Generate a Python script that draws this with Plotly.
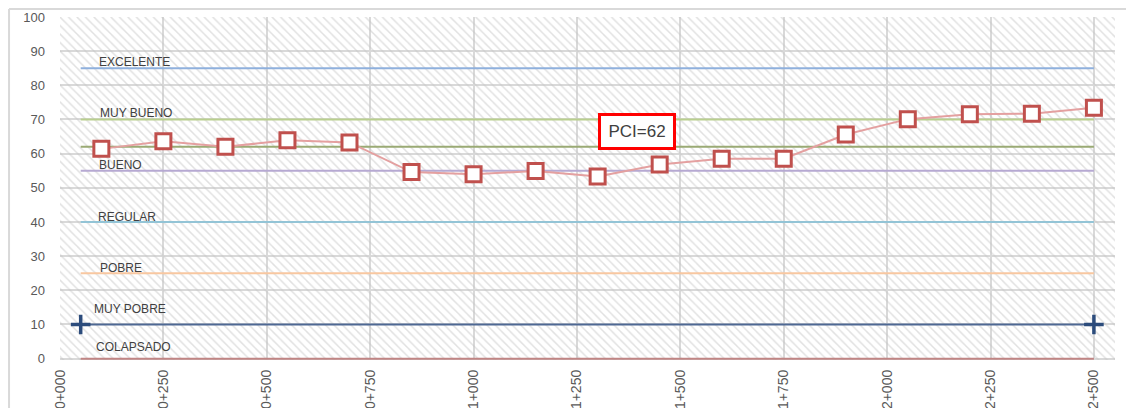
import plotly.graph_objects as go

# ---- data ----
chainage = [100, 250, 400, 550, 700, 850, 1000, 1150, 1300, 1450, 1600, 1750, 1900, 2050, 2200, 2350, 2500]
pci = [61.4, 63.6, 62.0, 63.9, 63.3, 54.6, 54.0, 54.9, 53.3, 56.8, 58.5, 58.5, 65.6, 70.1, 71.5, 71.7, 73.4]

tick_vals = [0, 250, 500, 750, 1000, 1250, 1500, 1750, 2000, 2250, 2500]
tick_text = ["0+000", "0+250", "0+500", "0+750", "1+000", "1+250", "1+500", "1+750", "2+000", "2+250", "2+500"]

level_names = ["EXCELENTE", "MUY BUENO", "BUENO", "REGULAR", "POBRE", "MUY POBRE", "COLAPSADO"]
level_values = [85, 70, 55, 40, 25, 10, 0]
level_colors = ["#8FB0DD", "#B9CF8E", "#B6A9D2", "#93C4D6", "#F8C7A0", "#4E6893", "#C08584"]
label_x = [89, 93, 89, 87, 93, 78, 83]
label_y = [86.8, 71.8, 56.6, 41.4, 26.6, 14.6, 3.3]
level_start = 50
level_end = 2500

pci_mean = 62
pci_label = "PCI=62"
pci_label_pos = (1395, 66.4)

x_range = [0, 2551]
y_range = [-0.4, 100]

fig = go.Figure()

# hatched plot background
fig.add_trace(go.Bar(
    x=[(x_range[0] + x_range[1]) / 2], y=[y_range[1] - y_range[0]], base=[y_range[0]],
    width=[x_range[1] - x_range[0]],
    marker=dict(color="rgba(0,0,0,0)", line=dict(width=0),
                pattern=dict(shape="\\", fgcolor="#C4C4C4", size=6, solidity=0.25, fillmode="overlay")),
    hoverinfo="skip", showlegend=False))

# condition levels
for name, val, col in zip(level_names, level_values, level_colors):
    if name == "MUY POBRE":
        fig.add_trace(go.Scatter(
            x=[level_start, level_end], y=[val, val], mode="lines+markers",
            line=dict(color=col, width=2),
            marker=dict(symbol="cross-thin", size=14, line=dict(color="#2C4C7C", width=3.5)),
            showlegend=False, hoverinfo="skip"))
    else:
        fig.add_trace(go.Scatter(
            x=[level_start, level_end], y=[val, val], mode="lines",
            line=dict(color=col, width=2), showlegend=False, hoverinfo="skip"))

# mean PCI line
fig.add_trace(go.Scatter(
    x=[level_start, level_end], y=[pci_mean, pci_mean], mode="lines",
    line=dict(color="#9AAA74", width=2), showlegend=False, hoverinfo="skip"))

# PCI series
fig.add_trace(go.Scatter(
    x=chainage, y=pci, mode="lines+markers",
    line=dict(color="#E4A0A0", width=2),
    marker=dict(symbol="square", size=15, color="white", line=dict(color="#C0504D", width=3)),
    showlegend=False))

annotations = []
for name, lx, ly in zip(level_names, label_x, label_y):
    annotations.append(dict(x=lx, y=ly, xref="x", yref="y", text=name, showarrow=False,
                            xanchor="left", yanchor="middle",
                            font=dict(family="Liberation Sans", size=12, color="#404040")))
annotations.append(dict(x=pci_label_pos[0], y=pci_label_pos[1], xref="x", yref="y", text=pci_label,
                        showarrow=False, xanchor="center", yanchor="middle",
                        bgcolor="white", bordercolor="#FF0000", borderwidth=3, borderpad=0,
                        width=72, height=31,
                        font=dict(family="Liberation Sans", size=17, color="#404040")))

# outer chart border (top and left)
shapes = [
    dict(type="line", xref="paper", yref="paper", x0=-0.0483, x1=1.1, y0=1.0233, y1=1.0233,
         line=dict(color="#D9D9D9", width=2)),
    dict(type="line", xref="paper", yref="paper", x0=-0.0483, x1=-0.0483, y0=-0.2, y1=1.0233,
         line=dict(color="#D9D9D9", width=2)),
]

fig.update_layout(
    width=1126, height=400,
    margin=dict(l=52, r=19, t=9, b=48, autoexpand=False),
    plot_bgcolor="white", paper_bgcolor="white",
    annotations=annotations, shapes=shapes,
    font=dict(family="Liberation Sans", color="#595959"),
    xaxis=dict(range=x_range, tickmode="array", tickvals=tick_vals, ticktext=tick_text,
               tickangle=-90, showgrid=True, gridcolor="#D9D9D9", gridwidth=2,
               zeroline=False, showline=False, ticks="", automargin=False,
               tickfont=dict(size=14, color="#595959"), ticklabelstandoff=6),
    yaxis=dict(range=y_range, tickmode="array", tickvals=list(range(0, 101, 10)),
               showgrid=True, gridcolor="#D9D9D9", gridwidth=2,
               zeroline=False, showline=False, ticks="", automargin=False,
               tickfont=dict(size=13, color="#595959"), ticklabelstandoff=14),
    bargap=0,
)

fig.write_html("out.html")
